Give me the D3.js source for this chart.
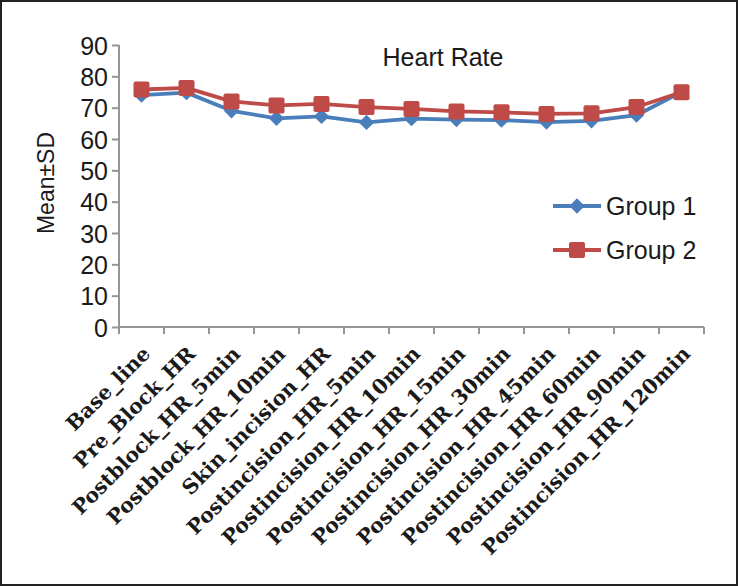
<!DOCTYPE html>
<html>
<head>
<meta charset="utf-8">
<script src="https://cdn.jsdelivr.net/npm/d3@7"></script>
<style>
  html, body { margin: 0; padding: 0; background: #fff; }
  svg { display: block; }
</style>
</head>
<body>
<svg id="chart" width="738" height="586"></svg>
<script>
const categories = ["Base_line", "Pre_Block_HR", "Postblock_HR_5min", "Postblock_HR_10min",
  "Skin_incision_HR", "Postincision_HR_5min", "Postincision_HR_10min", "Postincision_HR_15min",
  "Postincision_HR_30min", "Postincision_HR_45min", "Postincision_HR_60min",
  "Postincision_HR_90min", "Postincision_HR_120min"];
const group1 = [74, 74.8, 69, 66.6, 67.2, 65.3, 66.5, 66.2, 66, 65.4, 65.8, 67.6, 75];
const group2 = [75.8, 76.3, 72, 70.7, 71.2, 70.2, 69.6, 68.8, 68.5, 68.0, 68.2, 70.2, 74.9];
const seriesNames = ["Group 1", "Group 2"];
const yTicks = [0, 10, 20, 30, 40, 50, 60, 70, 80, 90];
const title = "Heart Rate";
const yTitle = "Mean±SD";

const svg = d3.select("#chart");
const W = 738, H = 586;
const axisColor = "#959595";
const blue = "#4a7ebb", red = "#be4b48";

// frame
svg.append("rect").attr("x", 1).attr("y", 1).attr("width", W - 2).attr("height", H - 2)
  .attr("fill", "#fff").attr("stroke", "#222").attr("stroke-width", 2);

const x = d3.scaleBand().domain(categories).range([119, 704]).paddingInner(0).paddingOuter(0);
const y = d3.scaleLinear().domain([0, 90]).range([327, 45]);
const cx = d => x(d) + x.bandwidth() / 2;

// y axis
const yAxis = d3.axisLeft(y).tickValues(yTicks).tickSize(7).tickPadding(4).tickFormat(d3.format("d"));
const gy = svg.append("g").attr("transform", "translate(119,0)").call(yAxis);
gy.select(".domain").attr("stroke", axisColor).attr("stroke-width", 2)
  .attr("d", `M0,${y(90)}V${y(0)}`);
gy.selectAll(".tick line").attr("stroke", axisColor).attr("stroke-width", 2);
gy.selectAll(".tick text").attr("fill", "#1a1a1a")
  .style("font-family", "'Liberation Sans', Arial, sans-serif").style("font-size", "25px")
  .attr("dy", "0.36em");

// x axis
const xAxis = d3.axisBottom(x).tickSize(0).tickFormat("");
const gx = svg.append("g").attr("transform", `translate(0,${y(0)})`).call(xAxis);
gx.select(".domain").attr("stroke", axisColor).attr("stroke-width", 2)
  .attr("d", `M119,0H704`);
gx.selectAll(".tick").remove();
const boundaries = categories.map(c => x(c)).concat([x(categories[categories.length - 1]) + x.bandwidth()]);
gx.selectAll("line.bt").data(boundaries).enter().append("line")
  .attr("x1", d => d).attr("x2", d => d).attr("y1", 0).attr("y2", 7)
  .attr("stroke", axisColor).attr("stroke-width", 2);

// category labels
svg.append("g").selectAll("text").data(categories).enter().append("text")
  .attr("transform", d => `translate(${cx(d) + 5},${y(0) + 23}) rotate(-45)`)
  .attr("text-anchor", "end")
  .attr("dy", "0.35em")
  .style("font-family", "'DejaVu Serif', serif").style("font-weight", "bold")
  .style("font-size", "20.5px").attr("fill", "#1a1a1a")
  .text(d => d);

// lines
const line = d3.line().x((d, i) => cx(categories[i])).y(d => y(d));
[[group1, blue], [group2, red]].forEach(([data, col], k) => {
  svg.append("path").datum(data).attr("d", line).attr("fill", "none")
    .attr("stroke", col).attr("stroke-width", 3.8).attr("stroke-linejoin", "round");
  if (k === 0) {
    svg.append("g").selectAll("path").data(data).enter().append("path")
      .attr("d", d3.symbol().type(d3.symbolDiamond2).size(150))
      .attr("transform", (d, i) => `translate(${cx(categories[i])},${y(d)})`)
      .attr("fill", col);
  } else {
    svg.append("g").selectAll("rect").data(data).enter().append("rect")
      .attr("x", (d, i) => cx(categories[i]) - 8).attr("y", d => y(d) - 8)
      .attr("width", 16).attr("height", 16).attr("rx", 2)
      .attr("fill", col);
  }
});

// title
svg.append("text").attr("x", 443).attr("y", 66).attr("text-anchor", "middle")
  .style("font-family", "'Liberation Sans', Arial, sans-serif").style("font-size", "25px")
  .attr("fill", "#1a1a1a").text(title);

// y title
svg.append("text").attr("transform", "translate(54,183) rotate(-90)").attr("text-anchor", "middle")
  .style("font-family", "'Liberation Sans', Arial, sans-serif").style("font-size", "23px")
  .attr("fill", "#1a1a1a").text(yTitle);

// legend
const leg = svg.append("g");
seriesNames.forEach((name, i) => {
  const ly = 206 + i * 44;
  const col = i === 0 ? blue : red;
  leg.append("line").attr("x1", 553).attr("x2", 601).attr("y1", ly).attr("y2", ly)
    .attr("stroke", col).attr("stroke-width", 3.8);
  if (i === 0) {
    leg.append("path").attr("d", d3.symbol().type(d3.symbolDiamond2).size(150))
      .attr("transform", `translate(577,${ly})`).attr("fill", col);
  } else {
    leg.append("rect").attr("x", 577 - 8).attr("y", ly - 8).attr("width", 16).attr("height", 16)
      .attr("rx", 2).attr("fill", col);
  }
  leg.append("text").attr("x", 606).attr("y", ly).attr("dy", "0.36em")
    .style("font-family", "'Liberation Sans', Arial, sans-serif").style("font-size", "25px")
    .attr("fill", "#1a1a1a").text(name);
});
</script>
</body>
</html>
